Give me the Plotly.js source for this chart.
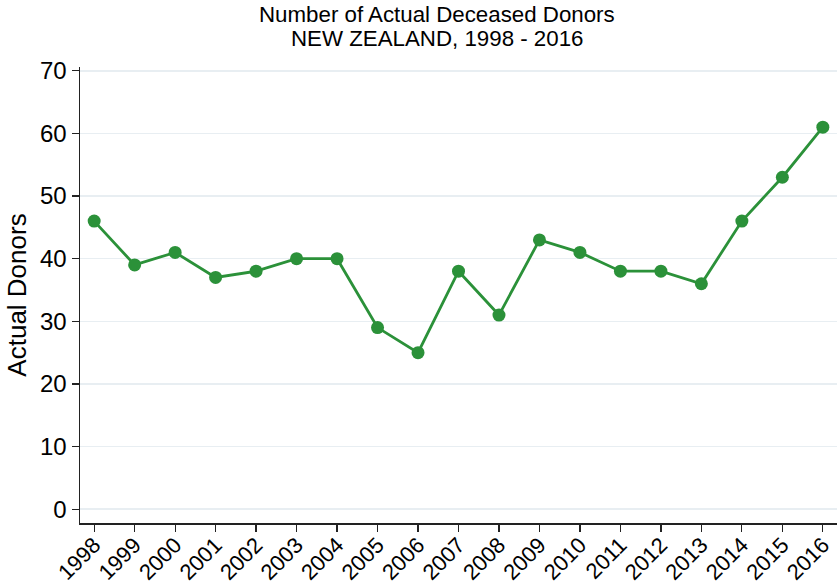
<!DOCTYPE html>
<html>
<head>
<meta charset="utf-8">
<script src="https://cdn.plot.ly/plotly-3.0.1.min.js"></script>
<style>
  html, body { margin: 0; padding: 0; background: #fff; }
  #chart { width: 837px; height: 585px; }
</style>
</head>
<body>
<div id="chart"></div>
<script>
// Actual deceased donors, New Zealand
const years = [1998, 1999, 2000, 2001, 2002, 2003, 2004, 2005, 2006, 2007,
               2008, 2009, 2010, 2011, 2012, 2013, 2014, 2015, 2016];
const donors = [46, 39, 41, 37, 38, 40, 40, 29, 25, 38,
                31, 43, 41, 38, 38, 36, 46, 53, 61];
const yTicks = [0, 10, 20, 30, 40, 50, 60, 70];
const titleLines = ['Number of Actual Deceased Donors', 'NEW ZEALAND, 1998 - 2016'];

const lineColor = '#2b9139';

const data = [{
    x: years,
    y: donors,
    type: 'scatter',
    mode: 'lines+markers',
    line: { color: lineColor, width: 2.8 },
    marker: { color: lineColor, size: 13 },
    hoverinfo: 'x+y'
}];

const layout = {
    width: 837,
    height: 585,
    margin: { l: 80, r: 0, t: 67, b: 62 },
    paper_bgcolor: '#ffffff',
    plot_bgcolor: '#ffffff',
    font: { family: 'Liberation Sans, Arial, sans-serif', color: '#000', size: 24 },
    showlegend: false,
    xaxis: {
        range: [1997.65, 2016.35],
        tickvals: years,
        ticktext: years.map(String),
        tickangle: -45,
        ticks: 'outside',
        ticklen: 7,
        tickwidth: 1.2,
        tickcolor: '#222',
        ticklabelstandoff: -8,
        showgrid: false,
        zeroline: false,
        showline: true,
        linecolor: '#222',
        linewidth: 1.5,
        automargin: false,
        tickfont: { size: 22 }
    },
    yaxis: {
        range: [-2.2, 70.6],
        tickvals: yTicks,
        ticks: 'outside',
        ticklen: 7,
        tickwidth: 1.2,
        tickcolor: '#222',
        showgrid: true,
        gridcolor: '#e8eef2',
        gridwidth: 1.5,
        zeroline: false,
        showline: true,
        linecolor: '#222',
        linewidth: 1.5,
        automargin: false,
        tickfont: { size: 24 },
        title: { text: 'Actual Donors', font: { size: 26 }, standoff: 6 }
    },
    annotations: titleLines.map((t, i) => ({
        text: t,
        xref: 'paper',
        yref: 'paper',
        x: 0.4716,
        y: 1,
        xanchor: 'center',
        yanchor: 'bottom',
        yshift: 38 - i * 24,
        showarrow: false,
        font: { size: 22.3, color: '#000' }
    }))
};

Plotly.newPlot('chart', data, layout, { displayModeBar: false, staticPlot: true });
</script>
</body>
</html>
